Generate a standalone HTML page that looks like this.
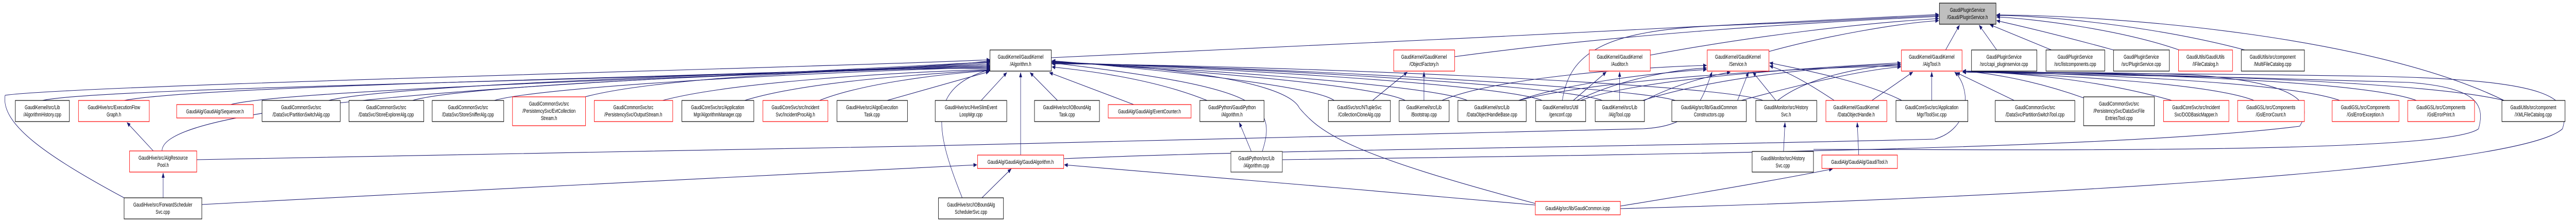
<!DOCTYPE html>
<html><head><meta charset="utf-8"><style>
html,body{margin:0;padding:0;background:#fff;width:100%;height:100%;overflow:hidden}
svg{display:block;width:100vw;height:100vh}
text{font-family:"Liberation Sans",sans-serif;font-size:11px;fill:#000;text-anchor:middle}
.n{fill:#fff;stroke:#000;stroke-width:1.2}
.r{fill:#fff;stroke:#ff0000;stroke-width:1.2}
.e{fill:none;stroke:#191970;stroke-width:1.1;marker-end:url(#ah)}
</style></head><body>
<svg viewBox="0 0 7057 429" preserveAspectRatio="none" xmlns="http://www.w3.org/2000/svg" overflow="hidden">
<defs><marker id="ah" markerWidth="10" markerHeight="8" refX="9" refY="4" orient="auto" markerUnits="userSpaceOnUse"><path d="M0,0 L10,4 L0,8 z" fill="#191970"/></marker></defs>
<g>
<path class="e" d="M116,195 C300,165 2400,150 2712,118"/>
<path class="e" d="M340,195 C600,160 2400,145 2712,121"/>
<path class="e" d="M632,203 C800,170 2400,140 2712,124"/>
<path class="e" d="M900,195 C1100,160 2400,135 2712,127"/>
<path class="e" d="M1130,195 C1300,160 2400,135 2712,129"/>
<path class="e" d="M1354,195 C1500,165 2400,135 2712,131"/>
<path class="e" d="M1603,188 C1800,150 2400,130 2712,133"/>
<path class="e" d="M1815,195 C2000,160 2450,140 2712,135"/>
<path class="e" d="M2040,195 C2200,160 2500,145 2712,136"/>
<path class="e" d="M2245,195 C2350,165 2550,145 2712,137"/>
<path class="e" d="M2430,195 L2710,139"/>
<path class="e" d="M2688,195 L2758,141"/>
<path class="e" d="M2897,195 L2822,141"/>
<path class="e" d="M3106,203 L2875,141"/>
<path class="e" d="M3307,195 C3150,150 2950,135 2882,130"/>
<path class="e" d="M2796,301 L2796,141"/>
<path class="e" d="M444,293 C440,180 2000,150 2712,120"/>
<path class="e" d="M340,384 C120,300 2,240 14,185 C200,165 2300,130 2712,116"/>
<path class="e" d="M2636,384 C2560,250 2540,170 2712,135"/>
<path class="e" d="M3458,294 C3500,200 3450,170 2882,122"/>
<path class="e" d="M4206,395 C3700,300 3620,260 3560,210 C3520,150 3100,125 2882,120"/>
<path class="e" d="M3655,195 C3600,165 3100,130 2882,118"/>
<path class="e" d="M3850,195 C3750,160 3100,130 2882,119"/>
<path class="e" d="M4020,195 C3900,160 3100,128 2882,120"/>
<path class="e" d="M4225,195 C4100,160 3200,128 2882,121"/>
<path class="e" d="M4390,195 C4250,160 3200,125 2882,122"/>
<path class="e" d="M4590,195 C4450,165 3300,125 2882,123"/>
<path class="e" d="M4830,195 C4700,160 3400,125 2882,124"/>
<path class="e" d="M2880,112 C3500,90 4800,50 5311,28"/>
<path class="e" d="M3985,110 C4400,70 4900,45 5311,32"/>
<path class="e" d="M4521,107 C4800,70 5100,45 5311,36"/>
<path class="e" d="M4846,100 C5000,70 5200,45 5311,40"/>
<path class="e" d="M4280,195 C4300,100 4400,60 4700,50 C4900,45 5200,35 5311,30"/>
<path class="e" d="M5330,97 L5368,49"/>
<path class="e" d="M5470,97 L5422,49"/>
<path class="e" d="M5620,97 L5452,48"/>
<path class="e" d="M5790,97 C5600,60 5500,45 5470,40"/>
<path class="e" d="M5970,97 C5800,55 5550,35 5470,33"/>
<path class="e" d="M6150,97 C5900,50 5600,30 5470,30"/>
<path class="e" d="M6860,195 C6500,70 5800,30 5470,29"/>
<path class="e" d="M4870,195 C4950,150 5100,130 5207,125"/>
<path class="e" d="M5128,195 L5240,140"/>
<path class="e" d="M5292,195 L5292,140"/>
<path class="e" d="M5518,195 L5360,141"/>
<path class="e" d="M5708,190 C5550,150 5420,140 5377,138"/>
<path class="e" d="M5950,195 C5700,145 5450,140 5377,138"/>
<path class="e" d="M6175,195 C6050,160 5600,145 5377,138"/>
<path class="e" d="M6410,195 C6250,155 5600,142 5377,138"/>
<path class="e" d="M6620,195 C6450,150 5600,140 5377,138"/>
<path class="e" d="M6860,195 C6600,150 5600,140 5377,138"/>
<path class="e" d="M4330,195 C4500,150 5000,130 5207,122"/>
<path class="e" d="M4500,195 C4700,150 5000,128 5207,125"/>
<path class="e" d="M4160,195 C4400,150 5000,130 5207,128"/>
<path class="e" d="M4770,195 C4900,170 5100,135 5207,130"/>
<path class="e" d="M4865,195 L4802,140"/>
<path class="e" d="M5025,195 C4950,160 4900,140 4848,128"/>
<path class="e" d="M5210,195 C5100,155 4900,130 4848,122"/>
<path class="e" d="M3950,195 C4100,150 4500,130 4675,127"/>
<path class="e" d="M4160,195 C4300,160 4550,140 4675,135"/>
<path class="e" d="M4320,195 C4450,150 4600,135 4675,132"/>
<path class="e" d="M4505,195 C4600,160 4700,145 4740,140"/>
<path class="e" d="M4760,195 L4790,140"/>
<path class="e" d="M539,310 C1500,300 3500,270 4500,250 C4640,245 4660,200 4690,140"/>
<path class="e" d="M4310,195 L4400,140"/>
<path class="e" d="M4437,195 L4437,140"/>
<path class="e" d="M3760,195 L3855,140"/>
<path class="e" d="M3901,195 L3901,140"/>
<path class="e" d="M5092,301 L5088,238"/>
<path class="e" d="M4886,294 L4890,238"/>
<path class="e" d="M4439,400 C4700,370 4900,345 5020,328"/>
<path class="e" d="M4206,398 C3800,370 3200,340 2916,320"/>
<path class="e" d="M553,397 C1200,370 2200,340 2676,320"/>
<path class="e" d="M2914,308 C3500,290 4500,285 5300,270 C5400,250 5400,170 5355,140"/>
<path class="e" d="M420,293 L348,238"/>
<path class="e" d="M447,384 L447,336"/>
<path class="e" d="M2690,384 L2770,328"/>
<path class="e" d="M3428,294 L3395,238"/>
<path class="e" d="M3513,310 C4500,300 5800,290 6300,245 C6340,200 6300,160 6000,145 C5800,140 5500,140 5377,140"/>
<path class="e" d="M4968,290 C5500,290 6700,300 6790,250 C6810,200 6780,170 6600,160 C6200,150 5600,142 5377,140"/>
<path class="e" d="M4439,405 C5500,385 6900,330 7020,250 C7045,190 7000,155 6500,148 C6100,143 5600,141 5377,140"/>
</g>
<g>
<rect x="5313" y="6" width="155" height="41" fill="#bfbfbf" stroke="#000" stroke-width="1.2"/>
<text x="5390" y="23">GaudiPluginService</text><text x="5390" y="37">/Gaudi/PluginService.h</text>
<rect class="n" x="2712" y="97" width="168" height="41"/><text x="2796" y="114">GaudiKernel/GaudiKernel</text><text x="2796" y="128">/Algorithm.h</text>
<rect class="r" x="3818" y="97" width="167" height="41"/><text x="3901" y="114">GaudiKernel/GaudiKernel</text><text x="3901" y="128">/ObjectFactory.h</text>
<rect class="r" x="4354" y="97" width="167" height="41"/><text x="4437" y="114">GaudiKernel/GaudiKernel</text><text x="4437" y="128">/Auditor.h</text>
<rect class="r" x="4677" y="97" width="169" height="41"/><text x="4761" y="114">GaudiKernel/GaudiKernel</text><text x="4761" y="128">/Service.h</text>
<rect class="r" x="5209" y="97" width="166" height="41"/><text x="5292" y="114">GaudiKernel/GaudiKernel</text><text x="5292" y="128">/AlgTool.h</text>
<rect class="n" x="5401" y="97" width="179" height="41"/><text x="5490" y="114">GaudiPluginService</text><text x="5490" y="128">/src/capi_pluginservice.cpp</text>
<rect class="n" x="5605" y="97" width="161" height="41"/><text x="5685" y="114">GaudiPluginService</text><text x="5685" y="128">/src/listcomponents.cpp</text>
<rect class="n" x="5790" y="97" width="153" height="41"/><text x="5866" y="114">GaudiPluginService</text><text x="5866" y="128">/src/PluginService.cpp</text>
<rect class="r" x="5968" y="97" width="148" height="41"/><text x="6042" y="114">GaudiUtils/GaudiUtils</text><text x="6042" y="128">/IFileCatalog.h</text>
<rect class="n" x="6140" y="97" width="173" height="41"/><text x="6226" y="114">GaudiUtils/src/component</text><text x="6226" y="128">/MultiFileCatalog.cpp</text>
<rect class="n" x="42" y="195" width="148" height="41"/><text x="116" y="212">GaudiKernel/src/Lib</text><text x="116" y="226">/AlgorithmHistory.cpp</text>
<rect class="r" x="215" y="195" width="194" height="41"/><text x="312" y="212">GaudiHive/src/ExecutionFlow</text><text x="312" y="226">Graph.h</text>
<rect class="r" x="484" y="203" width="210" height="26"/><text x="589" y="220">GaudiAlg/GaudiAlg/Sequencer.h</text>
<rect class="n" x="718" y="195" width="214" height="41"/><text x="825" y="212">GaudiCommonSvc/src</text><text x="825" y="226">/DataSvc/PartitionSwitchAlg.cpp</text>
<rect class="n" x="956" y="195" width="205" height="41"/><text x="1058" y="212">GaudiCommonSvc/src</text><text x="1058" y="226">/DataSvc/StoreExplorerAlg.cpp</text>
<rect class="n" x="1184" y="195" width="196" height="41"/><text x="1282" y="212">GaudiCommonSvc/src</text><text x="1282" y="226">/DataSvc/StoreSnifferAlg.cpp</text>
<rect class="r" x="1404" y="188" width="200" height="56"/><text x="1504" y="205">GaudiCommonSvc/src</text><text x="1504" y="219">/PersistencySvc/EvtCollection</text><text x="1504" y="233">Stream.h</text>
<rect class="r" x="1628" y="195" width="215" height="41"/><text x="1735" y="212">GaudiCommonSvc/src</text><text x="1735" y="226">/PersistencySvc/OutputStream.h</text>
<rect class="n" x="1868" y="195" width="197" height="41"/><text x="1966" y="212">GaudiCoreSvc/src/Application</text><text x="1966" y="226">Mgr/AlgorithmManager.cpp</text>
<rect class="r" x="2090" y="195" width="178" height="41"/><text x="2179" y="212">GaudiCoreSvc/src/Incident</text><text x="2179" y="226">Svc/IncidentProcAlg.h</text>
<rect class="n" x="2293" y="195" width="193" height="41"/><text x="2389" y="212">GaudiHive/src/AlgoExecution</text><text x="2389" y="226">Task.cpp</text>
<rect class="n" x="2562" y="195" width="196" height="41"/><text x="2660" y="212">GaudiHive/src/HiveSlimEvent</text><text x="2660" y="226">LoopMgr.cpp</text>
<rect class="n" x="2834" y="195" width="178" height="41"/><text x="2923" y="212">GaudiHive/src/IOBoundAlg</text><text x="2923" y="226">Task.cpp</text>
<rect class="r" x="3036" y="203" width="227" height="26"/><text x="3149" y="220">GaudiAlg/GaudiAlg/EventCounter.h</text>
<rect class="n" x="3287" y="195" width="176" height="41"/><text x="3375" y="212">GaudiPython/GaudiPython</text><text x="3375" y="226">/Algorithm.h</text>
<rect class="n" x="3639" y="195" width="170" height="41"/><text x="3724" y="212">GaudiSvc/src/NTupleSvc</text><text x="3724" y="226">/CollectionCloneAlg.cpp</text>
<rect class="n" x="3833" y="195" width="137" height="41"/><text x="3901" y="212">GaudiKernel/src/Lib</text><text x="3901" y="226">/Bootstrap.cpp</text>
<rect class="n" x="3994" y="195" width="187" height="41"/><text x="4087" y="212">GaudiKernel/src/Lib</text><text x="4087" y="226">/DataObjectHandleBase.cpp</text>
<rect class="n" x="4207" y="195" width="137" height="41"/><text x="4275" y="212">GaudiKernel/src/Util</text><text x="4275" y="226">/genconf.cpp</text>
<rect class="n" x="4370" y="195" width="135" height="41"/><text x="4437" y="212">GaudiKernel/src/Lib</text><text x="4437" y="226">/AlgTool.cpp</text>
<rect class="n" x="4580" y="195" width="204" height="41"/><text x="4682" y="212">GaudiAlg/src/lib/GaudiCommon</text><text x="4682" y="226">Constructors.cpp</text>
<rect class="n" x="4810" y="195" width="167" height="41"/><text x="4893" y="212">GaudiMonitor/src/History</text><text x="4893" y="226">Svc.h</text>
<rect class="r" x="5002" y="195" width="167" height="41"/><text x="5085" y="212">GaudiKernel/GaudiKernel</text><text x="5085" y="226">/DataObjectHandle.h</text>
<rect class="n" x="5194" y="195" width="197" height="41"/><text x="5292" y="212">GaudiCoreSvc/src/Application</text><text x="5292" y="226">Mgr/ToolSvc.cpp</text>
<rect class="n" x="5466" y="195" width="218" height="41"/><text x="5575" y="212">GaudiCommonSvc/src</text><text x="5575" y="226">/DataSvc/PartitionSwitchTool.cpp</text>
<rect class="n" x="5708" y="188" width="194" height="56"/><text x="5805" y="205">GaudiCommonSvc/src</text><text x="5805" y="219">/PersistencySvc/DataSvcFile</text><text x="5805" y="233">EntriesTool.cpp</text>
<rect class="r" x="5927" y="195" width="179" height="41"/><text x="6016" y="212">GaudiCoreSvc/src/Incident</text><text x="6016" y="226">Svc/DODBasicMapper.h</text>
<rect class="r" x="6130" y="195" width="183" height="41"/><text x="6221" y="212">GaudiGSL/src/Components</text><text x="6221" y="226">/GslErrorCount.h</text>
<rect class="r" x="6389" y="195" width="183" height="41"/><text x="6480" y="212">GaudiGSL/src/Components</text><text x="6480" y="226">/GslErrorException.h</text>
<rect class="r" x="6596" y="195" width="183" height="41"/><text x="6687" y="212">GaudiGSL/src/Components</text><text x="6687" y="226">/GslErrorPrint.h</text>
<rect class="n" x="6854" y="195" width="173" height="41"/><text x="6940" y="212">GaudiUtils/src/component</text><text x="6940" y="226">/XMLFileCatalog.cpp</text>
<rect class="r" x="355" y="293" width="184" height="41"/><text x="447" y="310">GaudiHive/src/AlgResource</text><text x="447" y="324">Pool.h</text>
<rect class="r" x="2678" y="301" width="236" height="26"/><text x="2796" y="318">GaudiAlg/GaudiAlg/GaudiAlgorithm.h</text>
<rect x="3372" y="294" width="141" height="40" fill="#fff" stroke="#404040" stroke-width="1.4"/><text x="3442" y="311">GaudiPython/src/Lib</text><text x="3442" y="325">/Algorithm.cpp</text>
<rect class="n" x="4800" y="294" width="168" height="40"/><text x="4884" y="311">GaudiMonitor/src/History</text><text x="4884" y="325">Svc.cpp</text>
<rect class="r" x="4991" y="301" width="207" height="26"/><text x="5094" y="318">GaudiAlg/GaudiAlg/GaudiTool.h</text>
<rect class="n" x="340" y="384" width="213" height="41"/><text x="446" y="401">GaudiHive/src/ForwardScheduler</text><text x="446" y="415">Svc.cpp</text>
<rect class="n" x="2571" y="384" width="178" height="41"/><text x="2660" y="401">GaudiHive/src/IOBoundAlg</text><text x="2660" y="415">SchedulerSvc.cpp</text>
<rect class="r" x="4206" y="391" width="233" height="26"/><text x="4322" y="408">GaudiAlg/src/lib/GaudiCommon.icpp</text>
</g>
</svg>
</body></html>
